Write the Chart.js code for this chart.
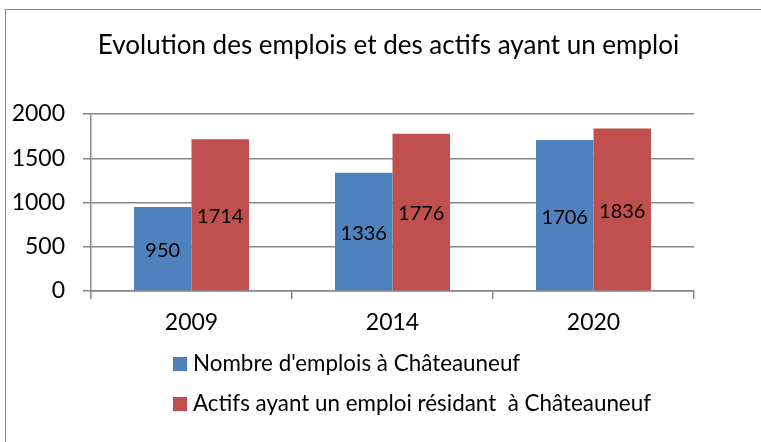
<!DOCTYPE html>
<html>
<head>
<meta charset="utf-8">
<script src="https://cdn.jsdelivr.net/npm/chart.js@4.4.1/dist/chart.umd.min.js"></script>
<style>
  html, body { margin: 0; padding: 0; background: #fff; overflow: hidden; }
  #frame { position: absolute; left: 5px; top: 9px; width: 800px; height: 480px; border: 1px solid #8a8a8a; }
  #chart { position: absolute; left: 0; top: 0; }
</style>
</head>
<body>
<div id="frame"></div>
<canvas id="chart" width="761" height="442"></canvas>
<script>
const title = 'Evolution des emplois et des actifs ayant un emploi';
const years = ['2009', '2014', '2020'];
const emplois = [950, 1336, 1706];
const actifs = [1714, 1776, 1836];
const seriesNames = ["Nombre d'emplois à Châteauneuf", 'Actifs ayant un emploi résidant  à Châteauneuf'];
const yTicks = [0, 500, 1000, 1500, 2000];

const FONT = 'Lato, "Open Sans", sans-serif';
const GRID = '#878787';

// title is drawn by hand so it can sit a bit right of the canvas centre
const chartTitle = {
  id: 'chartTitle',
  afterDraw(chart) {
    const ctx = chart.ctx;
    ctx.save();
    ctx.font = '26px ' + FONT;
    ctx.fillStyle = '#000';
    ctx.textAlign = 'center';
    ctx.textBaseline = 'middle';
    ctx.fillText(title, 388.5, 46);
    ctx.restore();
  }
};

// value written in the middle of each bar
const barLabels = {
  id: 'barLabels',
  afterDatasetsDraw(chart) {
    const ctx = chart.ctx;
    ctx.save();
    ctx.font = '20px ' + FONT;
    ctx.fillStyle = '#000';
    ctx.textAlign = 'center';
    ctx.textBaseline = 'middle';
    chart.data.datasets.forEach((ds, i) => {
      chart.getDatasetMeta(i).data.forEach((bar, j) => {
        const p = bar.getProps(['x', 'y', 'base'], true);
        ctx.fillText(String(ds.data[j]), p.x, (p.y + p.base) / 2 + 2);
      });
    });
    ctx.restore();
  }
};

// legend stacked below the axis, one entry per line
const stackedLegend = {
  id: 'stackedLegend',
  afterDraw(chart) {
    const ctx = chart.ctx;
    const x0 = 173;
    const yStart = chart.chartArea.bottom + 73;
    ctx.save();
    ctx.font = '22.4px ' + FONT;
    ctx.textBaseline = 'middle';
    chart.data.datasets.forEach((ds, i) => {
      const y = yStart + i * 40;
      ctx.fillStyle = ds.backgroundColor;
      ctx.fillRect(x0, y - 7, 14, 14);
      ctx.fillStyle = '#000';
      ctx.fillText(ds.label, x0 + 20, y);
    });
    ctx.restore();
  }
};

new Chart(document.getElementById('chart'), {
  type: 'bar',
  data: {
    labels: years,
    datasets: [
      { label: seriesNames[0], data: emplois, backgroundColor: '#4F81BD' },
      { label: seriesNames[1], data: actifs, backgroundColor: '#C0504D' }
    ]
  },
  options: {
    responsive: false,
    animation: false,
    layout: { padding: { left: 0, right: 67, top: 114, bottom: 101 } },
    datasets: { bar: { categoryPercentage: 0.572, barPercentage: 1 } },
    scales: {
      x: {
        offset: true,
        afterFit: (s) => { s.height = 50; },
        grid: { offset: true, drawOnChartArea: false, drawTicks: true, tickLength: 8, color: GRID, lineWidth: 1.5 },
        border: { color: GRID, width: 1.5 },
        ticks: { color: '#000', padding: 10, font: { family: FONT, size: 23 } }
      },
      y: {
        min: 0,
        max: 2000,
        afterFit: (s) => { s.width = 91; },
        afterBuildTicks: (s) => { s.ticks = yTicks.map(v => ({ value: v })); },
        grid: { color: GRID, lineWidth: 1.5, tickLength: 8 },
        border: { color: GRID, width: 1.5 },
        ticks: {
          color: '#000',
          padding: 18,
          font: { family: FONT, size: 23 },
          callback: (v) => String(v)
        }
      }
    },
    plugins: {
      legend: { display: false },
      tooltip: { enabled: false },
      title: { display: false }
    }
  },
  plugins: [chartTitle, barLabels, stackedLegend]
});
</script>
</body>
</html>
